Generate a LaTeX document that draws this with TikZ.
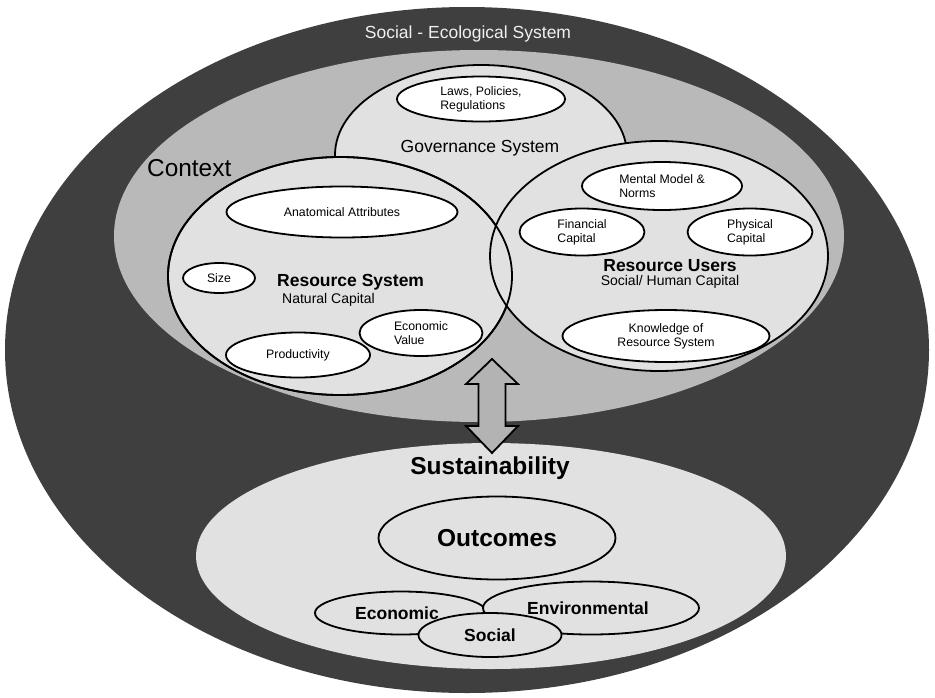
\documentclass[tikz,border=0pt]{standalone}
\usepackage{fontspec}
\setmainfont{Liberation Sans}
\usepackage{tikz}
\usetikzlibrary{shapes.geometric}
\usetikzlibrary{positioning}
\definecolor{sesgray}{HTML}{3F3F3F}
\definecolor{ctxgray}{HTML}{B9B9B9}
\definecolor{sysgray}{HTML}{E1E1E1}
\definecolor{arrowgray}{HTML}{B3B3B3}
\tikzset{zone/.style={ellipse,inner sep=0pt,draw=none}}
\tikzset{sys/.style={ellipse,inner sep=0pt,fill=sysgray,draw=black,line width=1.8pt}}
\tikzset{attr/.style={ellipse,inner sep=0pt,fill=white,draw=black,line width=1.8pt,font=\fontsize{12.3}{14}\selectfont,align=left}}
\tikzset{sys label/.style={font=\fontsize{17.5}{20}\selectfont\bfseries,inner sep=0pt}}
\tikzset{sub label/.style={font=\fontsize{14}{16}\selectfont,inner sep=0pt}}
\tikzset{big label/.style={font=\fontsize{24.5}{28}\selectfont\bfseries,inner sep=0pt}}

\begin{document}
\begin{tikzpicture}[x=1pt,y=-1pt]
  \useasboundingbox (0,0) rectangle (935,697);
  \fill[white] (0,0) rectangle (935,697);

  %Social-Ecological System
  \node[zone, fill=sesgray, minimum width=924pt, minimum height=686pt] (ses) at (467,350) {};
  \node[font=\fontsize{17.5}{20}\selectfont, text=white!94!black, inner sep=0pt] (seslabel) at (468,34) {Social - Ecological System};

  %Context
  \node[zone, fill=ctxgray, minimum width=730pt, minimum height=372pt] (ctx) at (479,236) {};
  \node[anchor=west, font=\fontsize{24.4}{28}\selectfont, inner sep=0pt] (ctxlabel) at (147,168) {Context};

  %Sustainability
  \node[zone, fill=sysgray, minimum width=590pt, minimum height=226pt] (sus) at (491,556) {};

  %Context <-> Sustainability
  \coordinate (arr) at (492,406);
  \draw[shift={(arr)}, fill=arrowgray, line width=1.8pt]
    (0,-47) -- (26,-22) -- (13.5,-22) -- (13.5,20) -- (26,20) -- (0,47)
    -- (-26,20) -- (-13.5,20) -- (-13.5,-22) -- (-26,-22) -- cycle;

  %Governance System
  \node[sys, minimum width=292pt, minimum height=180pt] (gov) at (481,155) {};
  \node[attr, minimum width=168pt, minimum height=45pt] (laws) at (481,99) {Laws, Policies,\\Regulations};
  \node[font=\fontsize{17.5}{20}\selectfont, inner sep=0pt] (govlabel) at (480,148) {Governance System};

  %Resource System / Resource Users
  \node[sys, minimum width=344pt, minimum height=238pt] (rs) at (340,276) {};
  \node[sys, minimum width=338pt, minimum height=230pt] (ru) at (659,256) {};
  \node[sys, fill=none, minimum width=344pt, minimum height=238pt] (rsline) at (rs) {};

  %Resource System
  \node[attr, minimum width=231pt, minimum height=51pt] (anat) at (342,212) {Anatomical Attributes};
  \node[attr, minimum width=72pt, minimum height=30pt] (size) at (219,278) {Size};
  \node[attr, minimum width=144pt, minimum height=45pt] (prod) at (298,355) {Productivity};
  \node[attr, minimum width=123pt, minimum height=46pt] (econval) at (421,333) {Economic\\Value};
  \node[sys label, anchor=west] (rslabel) at (277,282) {Resource System};
  \node[sub label, below right=3pt and 5pt of rslabel.south west] (rscap) {Natural Capital};

  %Resource Users
  \node[attr, minimum width=160pt, minimum height=48pt] (mental) at (662,186) {Mental Model \&\\Norms};
  \node[attr, minimum width=125pt, minimum height=47pt] (fin) at (582,232) {Financial\\Capital};
  \node[attr, minimum width=125pt, minimum height=47pt] (phys) at (750,232) {Physical\\Capital};
  \node[attr, minimum width=207pt, minimum height=52pt, align=center] (know) at (666,336) {Knowledge of\\Resource System};
  \node[sys label] (rulabel) at (670,266) {Resource Users};
  \node[sub label, below=3pt of rulabel] (rucap) {Social/ Human Capital};

  %Outcomes
  \node[big label] (suslabel) at (490,468) {Sustainability};
  \node[sys, minimum width=237pt, minimum height=83pt] (outc) at (497,538) {};
  \node[big label] (outclabel) at (outc) {Outcomes};
  \node[sys, minimum width=172pt, minimum height=43pt] (econ) at (401,613) {};
  \node[sys, minimum width=216pt, minimum height=53pt] (env) at (591,608) {};
  \node[sys, minimum width=143pt, minimum height=44pt] (soc) at (490,635) {};
  \node[sys label] (econlabel) at ([xshift=-4pt]econ.center) {Economic};
  \node[sys label] (envlabel) at ([xshift=-3pt]env.center) {Environmental};
  \node[sys label] (soclabel) at (soc) {Social};

\end{tikzpicture}
\end{document}
